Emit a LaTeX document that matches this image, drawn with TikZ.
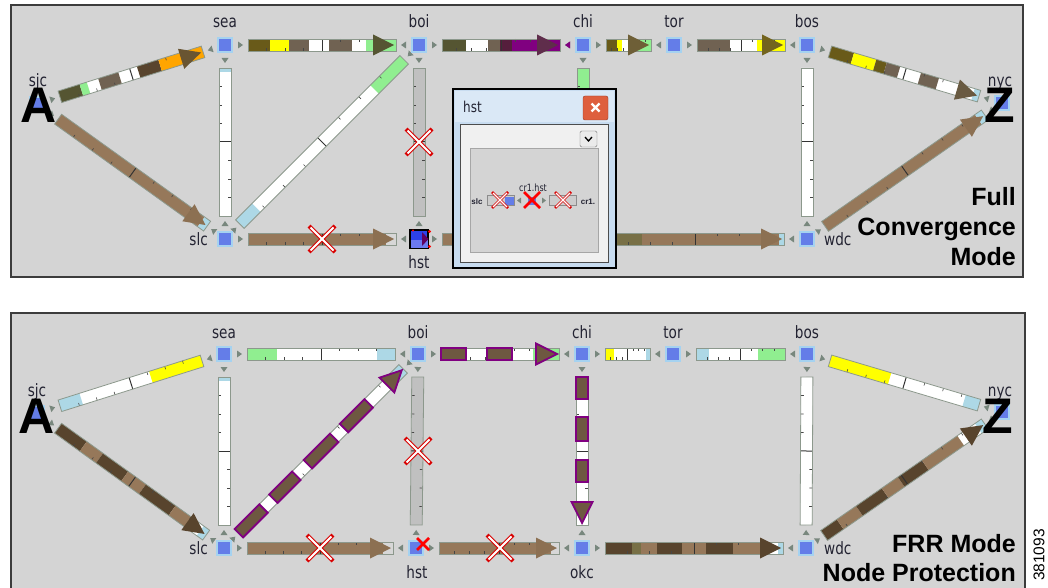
\documentclass[tikz,border=0pt]{standalone}
\usepackage{fontspec}
\setmainfont{Liberation Sans}
\newfontfamily\lblfont[FakeStretch=0.8]{DejaVu Sans}
\usetikzlibrary{calc}
\definecolor{bg}{RGB}{212,212,212}
\definecolor{frame}{RGB}{60,60,60}
\definecolor{ndblue}{RGB}{100,125,232}
\definecolor{ndglow}{RGB}{165,210,240}
\definecolor{lbltext}{RGB}{35,35,50}
\definecolor{olvg}{RGB}{85,85,50}
\definecolor{olv}{RGB}{105,90,25}
\definecolor{olv2}{RGB}{115,100,30}
\definecolor{olvb}{RGB}{120,112,70}
\definecolor{gbr}{RGB}{112,98,82}
\definecolor{yel}{RGB}{255,255,0}
\definecolor{lgrn}{RGB}{144,238,144}
\definecolor{lblu}{RGB}{173,216,230}
\definecolor{brn}{RGB}{150,120,90}
\definecolor{brnh}{RGB}{140,112,82}
\definecolor{dbrn}{RGB}{88,68,45}
\definecolor{pbrn}{RGB}{110,88,65}
\definecolor{org}{RGB}{255,165,0}
\definecolor{purp}{RGB}{128,0,128}
\definecolor{dpurp}{RGB}{85,30,60}
\definecolor{hdA}{RGB}{105,85,50}
\definecolor{hdP}{RGB}{95,45,75}
\definecolor{hdO}{RGB}{110,95,55}
\definecolor{hdG}{RGB}{105,90,65}
\definecolor{gbar}{RGB}{192,192,192}
\definecolor{lgry}{RGB}{215,215,215}
\definecolor{lkbord}{RGB}{140,152,140}
\definecolor{tkc}{RGB}{70,70,70}
\definecolor{tric}{RGB}{120,135,125}
\definecolor{popbg}{RGB}{200,220,240}
\definecolor{popbg2}{RGB}{218,232,246}
\definecolor{popin}{RGB}{240,240,240}
\definecolor{closered}{RGB}{222,95,62}
\definecolor{closedk}{RGB}{150,60,40}
\definecolor{hstblue}{RGB}{45,65,235}

\tikzset{
  nd/.style={draw=ndglow,line width=2pt,fill=ndblue,minimum size=14pt,inner sep=0pt},
  hstnd/.style={draw=black,line width=1.2pt,fill=hstblue,minimum size=18pt,inner sep=0pt},
  lbl/.style={font=\fontsize{17}{17}\lblfont,text=lbltext,inner sep=0pt},
  big/.style={font=\fontsize{50}{50}\selectfont\bfseries,inner sep=0pt,anchor=base},
  ttl/.style={font=\fontsize{25}{25}\selectfont\bfseries,inner sep=0pt,anchor=base east},
  lkb/.style={draw=lkbord,line width=0.8pt},
  tk/.style={draw=tkc,line width=0.6pt},
  midl/.style={draw=black!80,line width=1pt},
  tri/.style={fill=tric},
  pbox/.style={fill=pbrn,draw=purp,line width=1.8pt},
  xo/.style={draw=red!85!black,line width=4pt},
  xi/.style={draw=white,line width=1.8pt},
  fx/.pic={\draw[xo] (-13,-13)--(13,13) (-13,13)--(13,-13);
           \draw[xi] (-11.5,-11.5)--(11.5,11.5) (-11.5,11.5)--(11.5,-11.5);},
  fxs/.pic={\draw[draw=red!85!black,line width=2.8pt] (-8,-8)--(8,8) (-8,8)--(8,-8);
            \draw[white,line width=1.1pt] (-7,-7)--(7,7) (-7,7)--(7,-7);},
  rx/.pic={\draw[red,line width=2.6pt] (-6,-6)--(6,6) (-6,6)--(6,-6);},
  rxm/.pic={\draw[red,line width=2.8pt] (-8,-8)--(8,8) (-8,8)--(8,-8);},
}

\newcommand\lkhd[1]{\fill[#1] ({\lkE-23},-10.5) -- ({\lkE-2},0) -- ({\lkE-23},10.5) -- cycle;}
\newcommand\lkpb[2]{\filldraw[pbox] ({\lkS+#1*\lkW},-6) rectangle ({\lkS+#2*\lkW},6);}
\newcommand\lk[6]{%
  \path let \p1=(#1),\p2=(#2) in \pgfextra{%
    \pgfmathsetmacro\lkA{atan2(\y2-\y1,\x2-\x1)}\xdef\lkang{\lkA}%
    \pgfmathsetmacro\lkB{veclen(\x2-\x1,\y2-\y1)}\xdef\lklen{\lkB}};
  \begin{scope}[shift={(#1)},rotate=\lkang,x=1pt,y=1pt]
    \pgfmathsetmacro\lkS{#3}%
    \pgfmathsetmacro\lkE{\lklen-#4}%
    \pgfmathsetmacro\lkW{\lkE-\lkS}%
    \fill[white] (\lkS,-6) rectangle (\lkE,6);
    \foreach \ff/\gg/\cc in {#5}{\fill[\cc] ({\lkS+\ff*\lkW},-6) rectangle ({\lkS+\gg*\lkW},6);}
    \foreach \ff in {.125,.25,.375}{\draw[tk] ({\lkS+\ff*\lkW},-6) -- ++(0,3);}
    \foreach \ff in {.625,.75,.875}{\draw[tk] ({\lkS+\ff*\lkW},6) -- ++(0,-3);}
    \draw[midl] ({\lkS+.5*\lkW},-6) -- ++(0,12);
    \draw[lkb] (\lkS,-6) rectangle (\lkE,6);
    \fill[tri] ({\lkS-10},-3.5) -- ({\lkS-5},0) -- ({\lkS-10},3.5) -- cycle;
    \fill[tri] ({\lkE+10},-3.5) -- ({\lkE+5},0) -- ({\lkE+10},3.5) -- cycle;
    #6
  \end{scope}}

\begin{document}
\begin{tikzpicture}[x=1pt,y=-1pt]
\useasboundingbox (0,0) rectangle (1048,588);
\fill[white] (0,0) rectangle (1048,588);

% ---------------- panels
\fill[bg] (11,5) rectangle (1023,277);
\fill[bg] (11,313) rectangle (1025,600);

% ---------------- top panel nodes (positions)
\node[nd] (sjc1) at (37,104) {};
\node[nd] (sea1) at (225,45) {};
\node[nd] (boi1) at (419,45) {};
\node[nd] (chi1) at (583,45) {};
\node[nd] (tor1) at (674,45) {};
\node[nd] (bos1) at (807,45) {};
\node[nd] (nyc1) at (1002,103) {};
\node[nd] (slc1) at (225,239) {};
\node[nd] (okc1) at (583,239) {};
\node[nd] (wdc1) at (807,239) {};
\coordinate (hst1) at (419,239);

% top links
\lk{sjc1}{sea1}{24}{23}{0/.15/olvg,.15/.2/lgrn,.28/.42/gbr,.55/.7/dbrn,.7/1/org}{\lkhd{hdA}}
\lk{sea1}{boi1}{23}{23}{0/.15/olv,.15/.28/yel,.28/.41/gbr,.55/.7/gbr,.8/1/lgrn}{\lkhd{olvg}}
\lk{boi1}{chi1}{23}{23}{0/.2/olvg,.39/.49/gbr,.49/.59/dpurp,.59/1/purp}{\lkhd{hdP}\fill[purp] ({\lkE+10},-3.5)--({\lkE+5},0)--({\lkE+10},3.5)--cycle;}
\lk{chi1}{tor1}{23}{23}{0/.25/olv,.25/.35/yel,.7/1/lgrn}{\lkhd{hdO}}
\lk{tor1}{bos1}{23}{22}{0/.37/gbr,.68/1/yel}{\lkhd{olv2}}
\lk{bos1}{nyc1}{24}{24}{0/.15/olv,.15/.3/yel,.3/.37/olv,.37/.46/gbr,.6/.72/gbr,.96/1/lblu}{\lkhd{hdG}}
\lk{sjc1}{slc1}{26}{22}{0/.96/brn,.96/1/lblu}{\lkhd{brnh}}
\lk{sea1}{slc1}{23}{23}{0/.03/lblu}{}
\lk{slc1}{boi1}{21}{21}{0/.1/lblu,.82/1/lgrn}{}
\lk{boi1}{hst1}{23}{23}{0/1/gbar}{}
\lk{slc1}{hst1}{23}{23}{0/.93/brn,.93/1/lgry}{\lkhd{brnh}}
\lk{hst1}{okc1}{23}{23}{0/.93/brn}{\lkhd{brnh}}
\lk{okc1}{wdc1}{23}{23}{0/.2/olvb,.2/.97/brn,.97/1/lblu}{\lkhd{brnh}}
\lk{chi1}{okc1}{23}{23}{0/1/lgrn}{}
\lk{bos1}{wdc1}{23}{23}{0/0/white}{}
\lk{wdc1}{nyc1}{22}{21}{0/.96/brn,.96/1/lblu}{\lkhd{brnh}}

% redraw nodes on top
\foreach \n in {sjc1,sea1,boi1,chi1,tor1,bos1,nyc1,slc1,okc1,wdc1}{\node[nd] at (\n) {};}
\node[hstnd] (hstn1) at (hst1) {};
\fill[hstblue!70!white] (410.5,240) rectangle (427.5,247.5);
\fill[purp!75!black] (422,232) -- (428.5,239) -- (422,246) -- cycle;
\fill[red] (429.5,231.5) circle (1.7) (429.5,246.5) circle (1.7) (413,230.5) circle (1.2);

% top labels
\node[lbl,anchor=base] at (225,28) {sea};
\node[lbl,anchor=base] at (419,28) {boi};
\node[lbl,anchor=base] at (583,28) {chi};
\node[lbl,anchor=base] at (674,28) {tor};
\node[lbl,anchor=base] at (807,28) {bos};
\node[lbl,anchor=base east] at (208,245) {slc};
\node[lbl,anchor=base] at (419,268) {hst};
\node[lbl,anchor=base west] at (824,245) {wdc};
\node[lbl,anchor=base] at (38,87) {sjc};
\node[lbl,anchor=base] at (1000,87) {nyc};
\node[big] at (38.5,123) {A};
\node[big] at (1000,123) {Z};

% failures top
\pic at (419,142) {fx};
\pic at (322,239) {fx};

% titles top
\node[ttl] at (1016,205) {Full};
\node[ttl] at (1016,235) {Convergence};
\node[ttl] at (1016,265) {Mode};

% popup window
\fill[popbg] (453,89) rectangle (616,268);
\fill[popbg2] (455,91) rectangle (614,122);
\draw[black,line width=1.8pt] (453,89) rectangle (616,268);
\node[anchor=base west,font=\fontsize{15}{15}\lblfont,inner sep=0pt,text=lbltext] at (463,113) {hst};
\draw[fill=closered,draw=closedk,rounded corners=2pt] (583,96) rectangle (608,120);
\draw[white,line width=2.4pt] (591.5,103.5)--(599.5,111.5) (591.5,111.5)--(599.5,103.5);
\draw[fill=popin,draw=black!70,line width=.8pt] (460,124) rectangle (608,262);
\draw[fill=black!8,draw=black!55,rounded corners=1.5pt] (580,131) rectangle (597,147);
\draw[line width=1.3pt] (585,137)--(588.5,141)--(592,137);
\draw[fill=bg,draw=black!35] (470,148) rectangle (598,252);
% mini diagram
\node[font=\fontsize{8}{8}\selectfont\bfseries,inner sep=0pt,text=lbltext] (slcm) at (477,201.5) {slc};
\draw[fill=black!20,draw=black!45,line width=.6pt] (487,195.5) rectangle (514,205.5);
\fill[ndblue] (505,196.5) rectangle (514,204.5);
\fill[tric] (521,197.5)--(517,200.5)--(521,203.5)--cycle;
\node[fill=ndblue,minimum size=8pt,inner sep=0pt] (cr1m) at (532,200.5) {};
\fill[tric] (542,197.5)--(546,200.5)--(542,203.5)--cycle;
\draw[fill=black!20,draw=black!45,line width=.6pt] (549,195.5) rectangle (576,205.5);
\pic at (500,200) {fxs};
\pic at (563,200) {fxs};
\pic at (532,200) {rxm};
\node[font=\fontsize{10}{10}\lblfont,inner sep=0pt,text=lbltext] at (533,188) {cr1.hst};
\node[font=\fontsize{8}{8}\selectfont\bfseries,inner sep=0pt,text=lbltext] at (588,201.5) {cr1.};

\draw[frame,line width=1.5pt] (11,5) rectangle (1023,277);

% ---------------- bottom panel nodes
\node[nd] (sjc2) at (37,413) {};
\node[nd] (sea2) at (224,354) {};
\node[nd] (boi2) at (418,354) {};
\node[nd] (chi2) at (582,354) {};
\node[nd] (tor2) at (673,354) {};
\node[nd] (bos2) at (807,354) {};
\node[nd] (nyc2) at (1002,412) {};
\node[nd] (slc2) at (224,548) {};
\node[nd] (hst2) at (416,548) {};
\node[nd] (okc2) at (582,548) {};
\node[nd] (wdc2) at (806,548) {};

% bottom links
\lk{sjc2}{sea2}{24}{23}{0/.15/lblu,.64/1/yel}{}
\lk{sea2}{boi2}{23}{23}{0/.2/lgrn,.88/1/lblu}{}
\lk{boi2}{chi2}{23}{23}{.78/1/lgrn}{\lkpb{0}{.21}\lkpb{.39}{.6}\lkhd{pbox}}
\lk{chi2}{tor2}{23}{23}{0/.2/yel,.9/1/lblu}{}
\lk{tor2}{bos2}{23}{22}{0/.15/lblu,.7/1/lgrn}{}
\lk{bos2}{nyc2}{24}{24}{0/.4/yel,.9/1/lblu}{}
\lk{sjc2}{slc2}{26}{22}{0/.17/dbrn,.17/.28/brn,.28/.45/dbrn,.45/.57/brn,.57/.77/dbrn,.77/.9/brn,.96/1/lblu}{\lkhd{dbrn}}
\lk{sea2}{slc2}{23}{23}{0/.03/lblu}{}
\lk{slc2}{boi2}{21}{21}{.95/1/lblu}{\lkpb{0}{.15}\lkpb{.21}{.35}\lkpb{.42}{.58}\lkpb{.64}{.79}\lkhd{pbox}}
\lk{boi2}{hst2}{23}{23}{0/1/gbar}{}
\lk{slc2}{hst2}{23}{23}{0/.93/brn,.93/1/lgry}{\lkhd{brnh}}
\lk{hst2}{okc2}{23}{23}{0/.93/brn,.93/1/lgry}{\lkhd{brnh}}
\lk{chi2}{okc2}{23}{23}{0/0/white}{\lkpb{0}{.15}\lkpb{.27}{.43}\lkpb{.56}{.71}\lkhd{pbox}}
\lk{okc2}{wdc2}{23}{23}{0/.15/dbrn,.15/.2/olvb,.2/.29/brn,.29/.43/dbrn,.43/.57/brn,.57/.72/dbrn,.72/.87/brn,.97/1/lblu}{\lkhd{dbrn}}
\lk{bos2}{wdc2}{23}{23}{0/0/white}{}
\lk{wdc2}{nyc2}{22}{21}{0/.1/dbrn,.1/.22/brn,.22/.38/dbrn,.38/.48/brn,.48/.63/dbrn,.63/.85/brn,.96/1/lblu}{\lkhd{dbrn}}

\foreach \n in {sjc2,sea2,boi2,chi2,tor2,bos2,nyc2,slc2,hst2,okc2,wdc2}{\node[nd] at (\n) {};}

% bottom labels
\node[lbl,anchor=base] at (224,338) {sea};
\node[lbl,anchor=base] at (418,338) {boi};
\node[lbl,anchor=base] at (582,338) {chi};
\node[lbl,anchor=base] at (673,338) {tor};
\node[lbl,anchor=base] at (807,338) {bos};
\node[lbl,anchor=base east] at (208,554) {slc};
\node[lbl,anchor=base] at (417,578) {hst};
\node[lbl,anchor=base] at (582,578) {okc};
\node[lbl,anchor=base west] at (824,554) {wdc};
\node[lbl,anchor=base] at (37,396) {sjc};
\node[lbl,anchor=base] at (1000,396) {nyc};
\node[big] at (36.5,433) {A};
\node[big] at (998,433) {Z};

% failures bottom
\pic at (418,451) {fx};
\pic at (320,548) {fx};
\pic at (500,548) {fx};
\pic at (423,544) {rx};

% titles bottom
\node[ttl] at (1016,552) {FRR Mode};
\node[ttl] at (1016,581) {Node Protection};

\draw[frame,line width=1.5pt] (11,313) rectangle (1025,600);

\node[rotate=90,font=\fontsize{15.5}{15.5}\selectfont,inner sep=0pt] at (1039,555) {381093};
\end{tikzpicture}
\end{document}
